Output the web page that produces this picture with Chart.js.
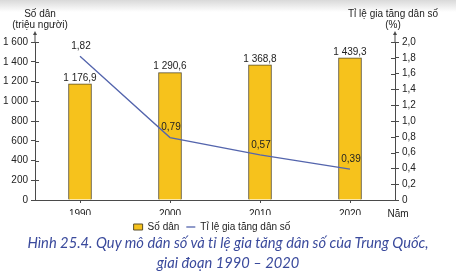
<!DOCTYPE html>
<html lang="vi">
<head>
<meta charset="utf-8">
<script src="https://cdn.jsdelivr.net/npm/chart.js@4.4.1/dist/chart.umd.min.js"></script>
<style>
  html, body { margin: 0; padding: 0; background: #fff; }
  body { width: 456px; height: 272px; overflow: hidden; position: relative; }
  #topband { position: absolute; left: 0; top: 0; width: 456px; height: 12px; background: linear-gradient(#d9d9d9, #ffffff); }
  #wrap { position: absolute; left: 0; top: 0; width: 456px; height: 242px; }
  #caption { position: absolute; left: 0; top: 232px; width: 456px; text-align: center;
             font-family: Lato, 'Noto Sans', sans-serif; font-style: italic; font-size: 14.7px;
             line-height: 20px; color: #3a4a9c; }
</style>
</head>
<body>
<div id="topband"></div>
<div id="wrap"><canvas id="myChart"></canvas></div>
<div id="caption">Hình 25.4. Quy mô dân số và tỉ lệ gia tăng dân số của Trung Quốc,<br>giai đoạn 1990 – 2020</div>
<script>
'use strict';

// data
let years = ['1990', '2000', '2010', '2020'];
let population = [1176.9, 1290.6, 1368.8, 1439.3];   // triệu người
let growthRate = [1.82, 0.79, 0.57, 0.39];           // %

let leftTicks = [0, 200, 400, 600, 800, 1000, 1200, 1400, 1600];
let rightTicks = [0, 0.2, 0.4, 0.6, 0.8, 1.0, 1.2, 1.4, 1.6, 1.8, 2.0];

let textColor = '#222';
let axisColor = '#4a4a4a';
let font = { family: "'Liberation Sans', Arial, sans-serif", size: 10 };

// 1176.9 -> "1 176,9"
function vn(v, digits) {
    let parts = v.toFixed(digits).split('.');
    parts[0] = parts[0].replace(/\B(?=(\d{3})+(?!\d))/g, ' ');
    return parts.join(',');
}

const decor = {
    id: 'decor',
    afterDatasetsDraw(chart) {
        const ctx = chart.ctx;
        const area = chart.chartArea;
        ctx.save();
        ctx.strokeStyle = axisColor;
        ctx.fillStyle = axisColor;
        ctx.lineWidth = 1;

        // axis arrows above the plot
        [area.left, area.right].forEach(function (x) {
            ctx.beginPath();
            ctx.moveTo(x, area.top);
            ctx.lineTo(x, area.top - 9);
            ctx.stroke();
            ctx.beginPath();
            ctx.moveTo(x, area.top - 11);
            ctx.lineTo(x - 2, area.top - 7);
            ctx.lineTo(x + 2, area.top - 7);
            ctx.closePath();
            ctx.fill();
        });

        // inner half of the tick marks
        let y = chart.scales.y;
        let y1 = chart.scales.y1;
        y.ticks.forEach(function (t) {
            let p = Math.round(y.getPixelForValue(t.value)) + 0.5;
            ctx.beginPath();
            ctx.moveTo(area.left, p);
            ctx.lineTo(area.left + 4, p);
            ctx.stroke();
        });
        y1.ticks.forEach(function (t) {
            let p = Math.round(y1.getPixelForValue(t.value)) + 0.5;
            ctx.beginPath();
            ctx.moveTo(area.right - 4, p);
            ctx.lineTo(area.right, p);
            ctx.stroke();
        });

        ctx.fillStyle = textColor;
        ctx.font = font.size + 'px ' + font.family;
        ctx.textAlign = 'center';
        ctx.textBaseline = 'middle';

        // axis titles
        ctx.fillText('Số dân', area.left + 5, 14);
        ctx.fillText('(triệu người)', area.left + 5, 25);
        ctx.fillText('Tỉ lệ gia tăng dân số', area.right - 2, 14);
        ctx.fillText('(%)', area.right - 2, 25);
        ctx.fillText('Năm', area.right + 3, area.bottom + 14);

        // value labels
        chart.getDatasetMeta(0).data.forEach(function (bar, i) {
            ctx.fillText(vn(population[i], 1), bar.x, bar.y - 6);
        });
        chart.getDatasetMeta(1).data.forEach(function (pt, i) {
            ctx.fillText(vn(growthRate[i], 2), pt.x + 1, pt.y - 10);
        });
        ctx.restore();
    }
};

const data = {
    labels: years,
    datasets: [{
        type: 'bar',
        label: 'Số dân',
        data: population,
        yAxisID: 'y',
        backgroundColor: '#f6c21c',
        borderColor: '#5a4f2a',
        borderWidth: 1,
        barThickness: 23,
        pointStyle: 'rect',
        order: 1
    },
    {
        type: 'line',
        label: 'Tỉ lệ gia tăng dân số',
        data: growthRate,
        yAxisID: 'y1',
        borderColor: '#5465ad',
        backgroundColor: '#5465ad',
        borderWidth: 1.3,
        pointRadius: 0,
        tension: 0,
        pointStyle: 'line',
        order: 0
    }]
};

const config = {
    type: 'bar',
    data: data,
    plugins: [decor],
    options: {
        responsive: true,
        maintainAspectRatio: false,
        animation: false,
        layout: { padding: { top: 42, left: 0, right: 32, bottom: 0 } },
        plugins: {
            tooltip: { enabled: false },
            legend: {
                position: 'bottom',
                labels: {
                    usePointStyle: true,
                    pointStyleWidth: 9,
                    boxHeight: 6,
                    padding: 7,
                    color: textColor,
                    font: font,
                    sort: function (a, b) { return a.datasetIndex - b.datasetIndex; }
                }
            }
        },
        scales: {
            x: {
                offset: true,
                grid: { display: true, drawOnChartArea: false, offset: false, tickLength: 3, color: axisColor },
                border: { color: axisColor },
                ticks: { color: textColor, font: font, padding: 5 },
                afterFit: function (s) { s.height = 15; }
            },
            y: {
                position: 'left',
                min: 0,
                max: 1600,
                grid: { drawOnChartArea: false, tickLength: 4, color: axisColor },
                border: { color: axisColor },
                ticks: {
                    color: textColor, font: font, padding: 3,
                    callback: function (v) { return vn(v, 0); }
                },
                afterBuildTicks: function (s) { s.ticks = leftTicks.map(function (v) { return { value: v }; }); },
                afterFit: function (s) { s.width = 35; }
            },
            y1: {
                position: 'right',
                min: 0,
                max: 2,
                grid: { drawOnChartArea: false, tickLength: 4, color: axisColor },
                border: { color: axisColor },
                ticks: {
                    color: textColor, font: font, padding: 3,
                    callback: function (v) { return v === 0 ? '0' : vn(v, 1); }
                },
                afterBuildTicks: function (s) { s.ticks = rightTicks.map(function (v) { return { value: v }; }); },
                afterFit: function (s) { s.width = 29; }
            }
        }
    }
};

var myChart = new Chart(document.getElementById('myChart'), config);
</script>
</body>
</html>
